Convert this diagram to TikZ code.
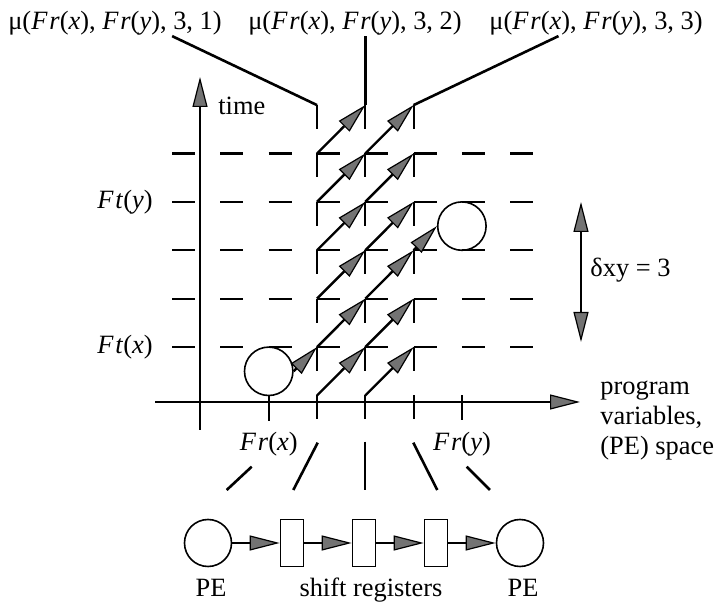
\documentclass[tikz,border=0pt]{standalone}
\usepackage{fontspec}
\setmainfont{Liberation Serif}
\usetikzlibrary{arrows.meta}
\newcommand{\lblfont}{\fontsize{13.2}{15}\selectfont}
\newcommand{\fvar}[2]{\textit{F\kern1pt #1}(\textit{#2})}
\newcommand{\mulbl}[1]{μ(\fvar{r}{x}, \fvar{r}{y}, 3, #1)}
\newcommand{\gpoints}{%
  \foreach \k in {0,...,8}{\foreach \j in {0,...,6}{%
    \coordinate (g-\k-\j) at ({172.1+48.3*\k},{395.5-48.4*\j});}}}
\newcommand{\grows}{%
  \foreach \j in {1,...,5}{\draw[rowdash] (g-0-\j) -- ++(360.9,0);}}
\newcommand{\gcols}{%
  \foreach \k in {3,4,5}{\draw[coldash] (g-\k-6) -- (g-\k-0) -- ++(0,24);}}
\newcommand{\gflow}{%
  \foreach \k/\kk in {3/4,4/5}{\foreach \j [count=\jj from 1] in {0,...,5}{%
    \draw[flow] (g-\k-\j) -- (g-\kk-\jj);}}}
\tikzset{
  >={Triangle[length=15pt,width=7.5pt,fill=black!55,line width=0.6pt]},
  txt/.style={inner sep=0pt},
  axis/.style={line width=0.9pt},
  rowdash/.style={line width=1.1pt,dash pattern=on 11.5pt off 12.65pt},
  coldash/.style={line width=1.1pt,dash pattern=on 12pt off 12.2pt},
  flow/.style={line width=1.2pt,->},
  lead/.style={line width=1.3pt},
  pe/.style={circle,draw,line width=0.8pt,minimum size=24.2pt,inner sep=0pt},
  pebox/.style={circle,draw,line width=0.8pt,minimum size=23.5pt,inner sep=0pt},
  reg/.style={rectangle,draw,line width=0.8pt,minimum width=11.5pt,minimum height=23.5pt,inner sep=0pt},
  link/.style={line width=0.8pt,->}
}

\begin{document}
\begin{tikzpicture}[x=0.5pt,y=-0.5pt,font=\lblfont]
  \useasboundingbox (0,0) rectangle (719,614);
  \gpoints
  \grows
  \gcols
  % axes
  \coordinate (xo) at (155,402); \coordinate (xe) at (580,402);
  \coordinate (yo) at (200,430); \coordinate (ye) at (200,77);
  \draw[axis,->] (xo) -- (xe);
  \draw[axis,->] (yo) -- (ye);
  \node[txt,anchor=base west] (time) at (218,115) {time};
  \node[txt,anchor=west,align=left] (space) at (600,421) {program\\variables,\\(PE) space};
  \node[txt,anchor=east] (fty) at (153,201.9) {\fvar{t}{y}};
  \node[txt,anchor=east] (ftx) at (153,347.1) {\fvar{t}{x}};
  % processing elements
  \node[pe] (pex) at (268.7,371.3) {};
  \node[pe] (pey) at (461.9,226.1) {};
  \draw[axis] (pex.south) -- ++(0,24.5);
  \draw[axis] (g-6-0) -- ++(0,24.5);
  \node[txt] (frx) at (268.7,444) {\fvar{r}{x}};
  \node[txt] (fry) at (461.9,444) {\fvar{r}{y}};
  \gflow
  \draw[flow] (pex.east) -- (g-3-1);
  \draw[flow] (g-5-3) -- (pey.west);
  % labels on top
  \node[txt,anchor=base] (mu1) at (115,30) {\mulbl{1}};
  \node[txt,anchor=base] (mu2) at (355,30) {\mulbl{2}};
  \node[txt,anchor=base] (mu3) at (596,30) {\mulbl{3}};
  \draw[lead] (g-0-6 |- mu1.south) -- (g-3-6);
  \draw[lead] (g-4-6 |- mu2.south) -- (g-4-6);
  \draw[lead] (g-8-6 |- mu3.south) -- (g-5-6);
  % distance
  \coordinate (dtop) at (581,202); \coordinate (dbot) at (581,342);
  \draw[axis,<->] (dtop) -- (dbot);
  \node[txt,anchor=west] (dxy) at (590,270) {δxy = 3};
  % fan to the chain
  \draw[lead] (226.7,490) -- (251.7,466.7);
  \draw[lead] (293.3,490) -- (317.7,442.7);
  \draw[lead] (365,441.7) -- (365,490);
  \draw[lead] (413.3,442.7) -- (437.3,490);
  \draw[lead] (466.7,466.7) -- (490,490);
  % shift register chain
  \node[pebox] (pe1) at (208,543) {};
  \node[reg] (reg1) at (292,543) {};
  \node[reg] (reg2) at (364,543) {};
  \node[reg] (reg3) at (436,543) {};
  \node[pebox] (pe2) at (520,543) {};
  \draw[link] (pe1) -- (reg1);
  \draw[link] (reg1) -- (reg2);
  \draw[link] (reg2) -- (reg3);
  \draw[link] (reg3) -- (pe2);
  \node[txt,anchor=base] (pe1l) at (211,597) {PE};
  \node[txt,anchor=base] (regl) at (371,597) {shift registers};
  \node[txt,anchor=base] (pe2l) at (523,597) {PE};
\end{tikzpicture}
\end{document}
